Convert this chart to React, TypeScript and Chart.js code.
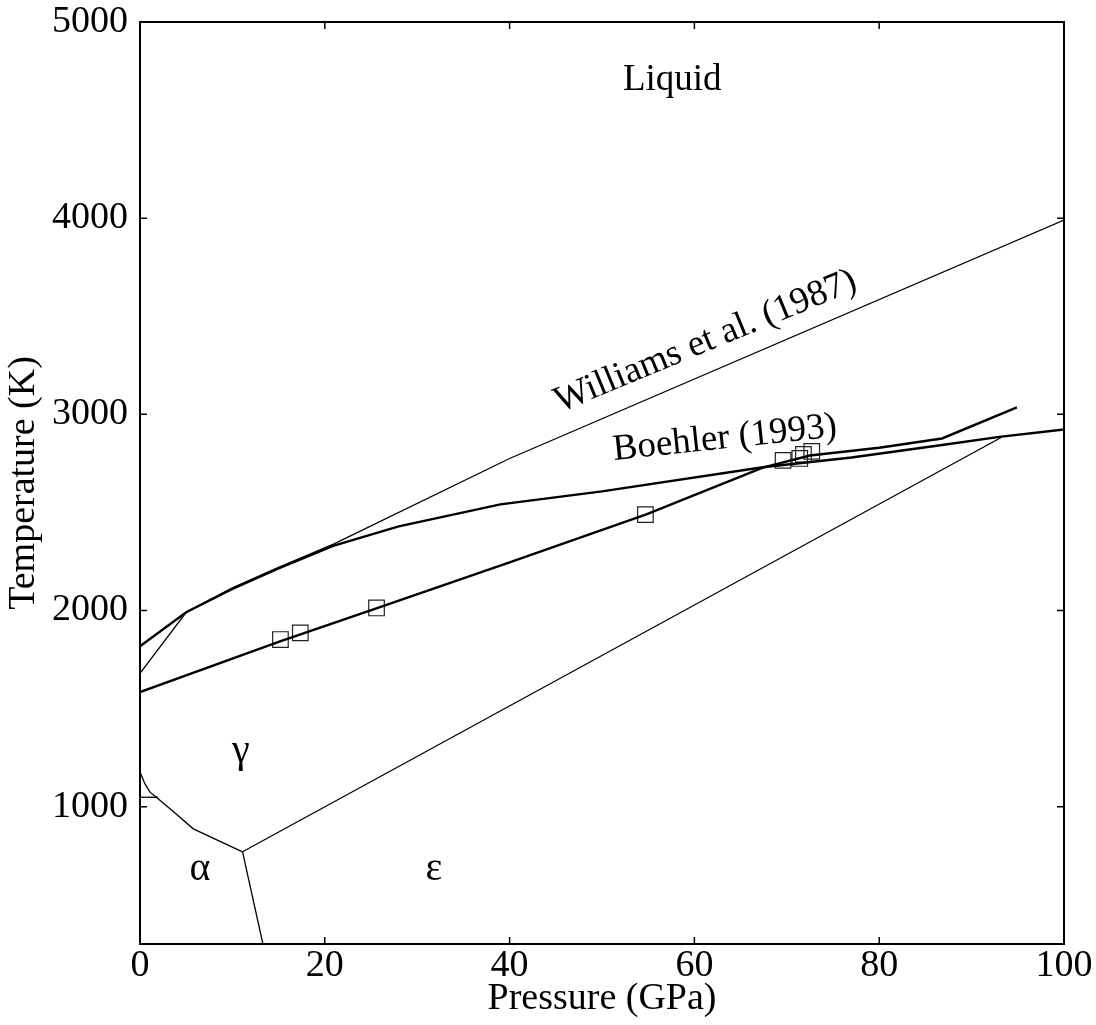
import { useEffect, useRef } from "react";
import { Chart, registerables } from "chart.js";

Chart.register(...registerables);

const FONT = "'Liberation Serif', 'Times New Roman', Times, serif";

// Axis ticks
const xTicks = [0, 20, 40, 60, 80, 100];
const yTicks = [1000, 2000, 3000, 4000, 5000];

// Williams et al. (1987) melting curve
const williamsP = [0, 5, 10, 15, 21, 40, 100];
const williamsT = [1680, 1991, 2115, 2220, 2340, 2775, 3990];

// Boehler (1993) melting curve
const boehlerP = [0, 5, 10, 15, 20.9, 28, 39, 50, 67.4, 77, 87, 93, 100];
const boehlerT = [1818, 1991, 2110, 2215, 2330, 2429, 2541, 2607, 2730, 2780, 2845, 2885, 2923];

// Fitted curve through square data
const fitP = [0, 15, 25.5, 40, 54.8, 67.4, 72.5, 80, 86.8, 94.9];
const fitT = [1584, 1840, 2010, 2245, 2490, 2728, 2790, 2830, 2877, 3035];

// Square data points
const sqP = [15.2, 17.35, 25.6, 54.7, 69.6, 71.4, 71.8, 72.7];
const sqT = [1852, 1886, 2013, 2489, 2765, 2775, 2796, 2811];

// Phase boundaries
const gammaEpsP = [11.1, 93.2];
const gammaEpsT = [770, 2882];
const alphaEpsP = [11.1, 13.3];
const alphaEpsT = [770, 300];
const alphaGammaP = [0, 0.54, 1.08, 1.9, 3.25, 5.77, 11.1];
const alphaGammaT = [1177, 1116, 1074, 1043, 989, 887, 770];
const shortP = [0, 1.95];
const shortT = [1048, 1048];

// Text annotations (anchored in data coordinates)
const labelTexts = ["Liquid", "Williams et al. (1987)", "Boehler (1993)", "γ", "α", "ε"];
const labelP = [57.6, 61.2, 63.3, 10.9, 6.5, 31.8];
const labelT = [4705, 3371, 2877, 1280, 678, 678];
const labelAngle = [0, -22.5, -6, 0, 0, 0];
const labelSize = [37, 37, 37, 40, 40, 40];

function pts(xs: number[], ys: number[]) {
  return xs.map((x, i) => ({ x, y: ys[i] }));
}

export default function App() {
  const ref = useRef<HTMLCanvasElement>(null);

  useEffect(() => {
    document.body.style.margin = "0";
    const canvas = ref.current;
    if (!canvas) return;

    const framePlugin = {
      id: "frame",
      afterDraw(chart: any) {
        const ctx = chart.ctx;
        const { left, right, top, bottom } = chart.chartArea;
        const xs = chart.scales.x;
        const ys = chart.scales.y;
        ctx.save();
        ctx.strokeStyle = "#000";
        ctx.lineWidth = 2;
        ctx.strokeRect(left, top, right - left, bottom - top);
        ctx.lineWidth = 1.5;
        const tl = 7;
        for (const v of xTicks) {
          const px = xs.getPixelForValue(v);
          ctx.beginPath();
          ctx.moveTo(px, bottom);
          ctx.lineTo(px, bottom - tl);
          ctx.moveTo(px, top);
          ctx.lineTo(px, top + tl);
          ctx.stroke();
        }
        for (const v of yTicks) {
          const py = ys.getPixelForValue(v);
          ctx.beginPath();
          ctx.moveTo(left, py);
          ctx.lineTo(left + tl, py);
          ctx.moveTo(right, py);
          ctx.lineTo(right - tl, py);
          ctx.stroke();
        }
        ctx.fillStyle = "#000";
        ctx.textAlign = "center";
        ctx.textBaseline = "middle";
        labelTexts.forEach((t, i) => {
          const px = xs.getPixelForValue(labelP[i]);
          const py = ys.getPixelForValue(labelT[i]);
          ctx.save();
          ctx.translate(px, py);
          ctx.rotate((labelAngle[i] * Math.PI) / 180);
          ctx.font = `${labelSize[i]}px ${FONT}`;
          ctx.fillText(t, 0, 0);
          ctx.restore();
        });
        ctx.restore();
      },
    };

    const line = (xs: number[], ys: number[], w: number) => ({
      data: pts(xs, ys),
      showLine: true,
      borderColor: "#000",
      borderWidth: w,
      pointRadius: 0,
      fill: false,
      tension: 0,
    });

    const chart = new Chart(canvas, {
      type: "scatter",
      data: {
        datasets: [
          line(williamsP, williamsT, 1.3),
          line(boehlerP, boehlerT, 2.4),
          line(fitP, fitT, 2.4),
          line(gammaEpsP, gammaEpsT, 1.3),
          line(alphaEpsP, alphaEpsT, 1.3),
          line(alphaGammaP, alphaGammaT, 1.3),
          line(shortP, shortT, 1.3),
          {
            data: pts(sqP, sqT),
            showLine: false,
            pointStyle: "rect",
            pointRadius: 11,
            pointBorderWidth: 1.2,
            pointBorderColor: "#222",
            pointBackgroundColor: "rgba(0,0,0,0)",
            borderColor: "#222",
            backgroundColor: "rgba(0,0,0,0)",
          } as any,
        ],
      },
      options: {
        responsive: false,
        animation: false,
        devicePixelRatio: 1,
        layout: { padding: { left: 0, top: 22, right: 32, bottom: 0 } },
        plugins: {
          legend: { display: false },
          tooltip: { enabled: false },
        },
        scales: {
          x: {
            type: "linear",
            min: 0,
            max: 100,
            grid: { display: false, drawTicks: false },
            border: { display: false },
            afterBuildTicks: (s: any) => {
              s.ticks = xTicks.map((v) => ({ value: v }));
            },
            afterFit: (s: any) => {
              s.height = 81;
              s.paddingLeft = 0;
              s.paddingRight = 0;
            },
            ticks: {
              color: "#000",
              font: { family: FONT, size: 38, lineHeight: 1 },
              padding: 3,
              maxRotation: 0,
              autoSkip: false,
              callback: (v: any) => String(v),
            },
            title: {
              display: true,
              text: "Pressure (GPa)",
              color: "#000",
              font: { family: FONT, size: 38, lineHeight: 1 },
              padding: { top: 0, bottom: 7 },
            },
          },
          y: {
            type: "linear",
            min: 300,
            max: 5000,
            grid: { display: false, drawTicks: false },
            border: { display: false },
            afterBuildTicks: (s: any) => {
              s.ticks = yTicks.map((v) => ({ value: v }));
            },
            afterFit: (s: any) => {
              s.width = 140;
              s.paddingTop = 0;
              s.paddingBottom = 0;
            },
            ticks: {
              color: "#000",
              font: { family: FONT, size: 38, lineHeight: 1 },
              padding: 12,
              autoSkip: false,
              callback: (v: any) => String(v),
            },
            title: {
              display: true,
              text: "Temperature (K)",
              color: "#000",
              font: { family: FONT, size: 38, lineHeight: 1 },
              padding: { top: 5, bottom: 0 },
            },
          },
        },
      } as any,
      plugins: [framePlugin],
    });

    return () => chart.destroy();
  }, []);

  return (
    <div style={{ width: 1096, height: 1025, background: "#fff" }}>
      <canvas
        ref={ref}
        width={1096}
        height={1025}
        style={{ display: "block", width: 1096, height: 1025 }}
      />
    </div>
  );
}
